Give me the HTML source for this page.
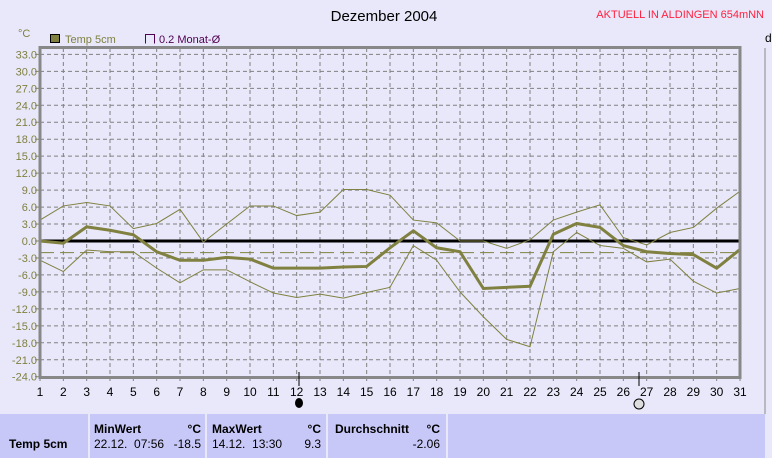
<!DOCTYPE html>
<html><head><meta charset="utf-8"><style>
body{margin:0;width:772px;height:458px;overflow:hidden;background:#e8e8fa;font-family:"Liberation Sans",sans-serif;}
svg{position:absolute;left:0;top:0}
.tbl{position:absolute;top:414px;height:44px;background:#c8c8f8;font-size:12px;color:#000}
.b{font-weight:bold}
</style></head><body>
<svg id="chart" width="772" height="414" font-family="Liberation Sans, sans-serif">
<text x="384" y="21" font-size="15" text-anchor="middle">Dezember 2004</text>
<text x="764" y="18" font-size="11" fill="#ff2040" text-anchor="end">AKTUELL IN ALDINGEN 654mNN</text>
<text x="18" y="37" font-size="11" fill="#808040">°C</text>
<g>
<rect x="50.5" y="34.5" width="9" height="8" fill="#808040" stroke="#000"/>
<text x="65" y="43" font-size="11" fill="#808040">Temp 5cm</text>
<path d="M145.5 43.5V34.5H154.5V43.5" fill="none" stroke="#500050"/>
<text x="159" y="43" font-size="11" fill="#500050">0.2 Monat-Ø</text>
</g>
<text x="765" y="42" font-size="12">d</text>
<line x1="765" y1="48" x2="765" y2="414" stroke="#888"/>
<g id="grid"></g>
<g id="series"></g>
<rect x="40" y="47.5" width="700" height="330" fill="none" stroke="#888" stroke-width="3"/>
<line x1="299" y1="372" x2="299" y2="386" stroke="#000"/>
<line x1="639" y1="372" x2="639" y2="386" stroke="#000"/>
<ellipse cx="299" cy="403" rx="4" ry="5" fill="#000"/>
<ellipse cx="639" cy="404" rx="5" ry="5" fill="#ddd" stroke="#000"/>
</svg>
<div class="tbl" style="left:0;width:88px"><div class="b" style="position:absolute;left:9px;top:23px">Temp 5cm</div></div>
<div class="tbl" style="left:90px;width:115px"><div class="b" style="position:absolute;left:4px;top:8px">MinWert</div><div class="b" style="position:absolute;right:4px;top:8px">°C</div><div style="position:absolute;left:4px;top:23px">22.12.&nbsp; 07:56</div><div style="position:absolute;right:4px;top:23px">-18.5</div></div>
<div class="tbl" style="left:207px;width:119px"><div class="b" style="position:absolute;left:5px;top:8px">MaxWert</div><div class="b" style="position:absolute;right:5px;top:8px">°C</div><div style="position:absolute;left:5px;top:23px">14.12.&nbsp; 13:30</div><div style="position:absolute;right:5px;top:23px">9.3</div></div>
<div class="tbl" style="left:328px;width:118px"><div class="b" style="position:absolute;left:7px;top:8px">Durchschnitt</div><div class="b" style="position:absolute;right:6px;top:8px">°C</div><div style="position:absolute;right:6px;top:23px">-2.06</div></div>
<div class="tbl" style="left:448px;width:317px"></div>
<script>
const days=[1,2,3,4,5,6,7,8,9,10,11,12,13,14,15,16,17,18,19,20,21,22,23,24,25,26,27,28,29,30,31];
const yTicks=[33,30,27,24,21,18,15,12,9,6,3,0,-3,-6,-9,-12,-15,-18,-21,-24];
const tempMean=[0.0,-0.4,2.5,1.9,1.1,-1.9,-3.4,-3.4,-2.9,-3.2,-4.8,-4.8,-4.8,-4.6,-4.5,-1.2,1.8,-1.2,-1.9,-8.4,-8.2,-8.0,1.2,3.1,2.4,-0.8,-1.9,-2.2,-2.4,-4.8,-1.5];
const tempMax=[3.7,6.2,6.8,6.2,2.2,3.1,5.6,-0.2,3.0,6.2,6.2,4.5,5.1,9.1,9.1,8.1,3.7,3.2,0.0,0.0,-1.3,0.2,3.7,5.1,6.4,0.6,-0.7,1.5,2.4,5.8,8.8];
const tempMin=[-3.4,-5.4,-1.6,-1.9,-1.9,-4.8,-7.4,-5.1,-5.1,-7.2,-9.2,-10.0,-9.4,-10.1,-9.1,-8.2,-0.8,-3.4,-9.0,-13.4,-17.4,-18.7,-1.9,1.5,-0.8,-1.3,-3.7,-3.2,-7.1,-9.2,-8.4];
const monthAvg=[-2.06];
const NS="http://www.w3.org/2000/svg";
const X=d=>40+(d-1)*700/30;
const Y=v=>241-v*5.655;
const grid=document.getElementById('grid'),ser=document.getElementById('series');
function mk(tag,attrs,parent){const e=document.createElementNS(NS,tag);for(const k in attrs)e.setAttribute(k,attrs[k]);parent.appendChild(e);return e;}
yTicks.forEach(v=>{
 const l=mk('line',{x1:40,x2:740,y1:Y(v),y2:Y(v),stroke:'#808080','stroke-dasharray':'4,3'},grid);
 
 
 const tk=mk('line',{x1:35,x2:40,y1:Y(v),y2:Y(v),stroke:'#808080'},grid);
 
 
 const t=mk('text',{x:37,y:Y(v)+4,'font-size':11,fill:'#808040','text-anchor':'end'},grid);
 t.textContent=v.toFixed(1);
 
 
});
days.forEach(d=>{
 const l=mk('line',{x1:X(d),x2:X(d),y1:48,y2:383,stroke:'#808080','stroke-dasharray':'4,3'},grid);
 
 
 const t=mk('text',{x:X(d),y:396,'font-size':12,'text-anchor':'middle'},grid);
 t.textContent=d;
 
 
});
const z=mk('line',{x1:40,x2:740,y1:Y(0),y2:Y(0),stroke:'#000','stroke-width':3},ser);


const av=mk('line',{x1:40,x2:740,y1:Y(monthAvg[0]),y2:Y(monthAvg[0]),stroke:'#808040','stroke-dasharray':'14,6'},ser);


function line(data,w,name){
 const p=mk('polyline',{points:data.map((v,i)=>X(days[i])+','+Y(v)).join(' '),fill:'none',stroke:'#808040','stroke-width':w},ser);
 
 
}
line(tempMax,1,'max-temp-line');
line(tempMin,1,'min-temp-line');
line(tempMean,3,'mean-temp-line');
</script>
</body></html>
